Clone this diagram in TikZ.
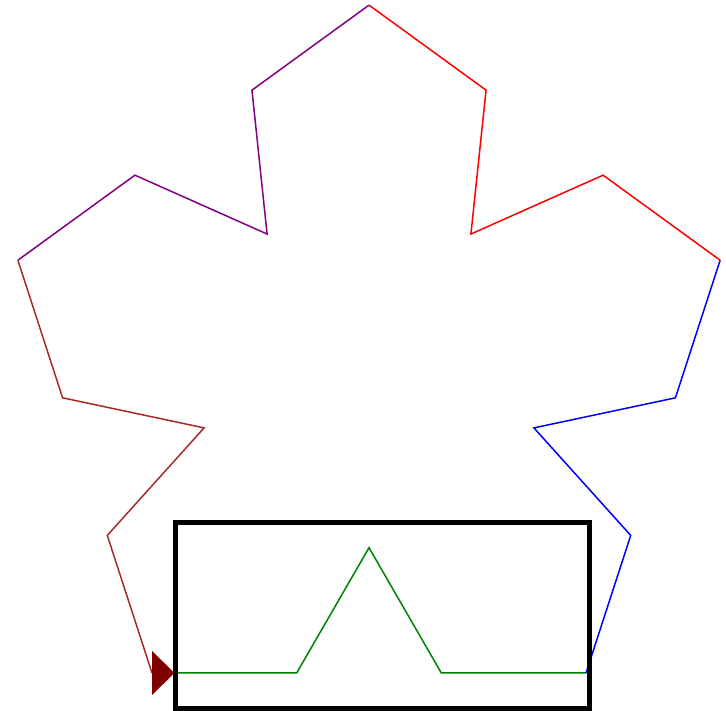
\documentclass[tikz,border=0pt]{standalone}
\usetikzlibrary{calc}
\definecolor{kgreen}{RGB}{0,128,0}
\definecolor{kblue}{RGB}{0,0,255}
\definecolor{kred}{RGB}{255,0,0}
\definecolor{kpurple}{RGB}{128,0,128}
\definecolor{kbrown}{RGB}{165,42,42}
\definecolor{kmaroon}{RGB}{128,0,0}
\tikzset{
  edge/.style={line width=1.5pt, line join=miter},
  frame/.style={line width=5pt, draw=black},
  turtle/.style={fill=kmaroon, draw=none}
}
\begin{document}
\begin{tikzpicture}[x=1pt,y=1pt]
\useasboundingbox (0,0) rectangle (726,711);
\def\a{144.67}
% start point
\coordinate (p0) at (152,38);
% green side (0 deg)
\path (p0) ++(0:\a) coordinate (g1) ++(60:\a) coordinate (g2) ++(-60:\a) coordinate (g3) ++(0:\a) coordinate (p1);
% blue side (72 deg)
\path (p1) ++(72:\a) coordinate (b1) ++(132:\a) coordinate (b2) ++(12:\a) coordinate (b3) ++(72:\a) coordinate (p2);
% red side (144 deg)
\path (p2) ++(144:\a) coordinate (r1) ++(204:\a) coordinate (r2) ++(84:\a) coordinate (r3) ++(144:\a) coordinate (p3);
% purple side (216 deg)
\path (p3) ++(216:\a) coordinate (u1) ++(276:\a) coordinate (u2) ++(156:\a) coordinate (u3) ++(216:\a) coordinate (p4);
% brown side (288 deg)
\path (p4) ++(288:\a) coordinate (n1) ++(348:\a) coordinate (n2) ++(228:\a) coordinate (n3) ++(288:\a) coordinate (p5);

\draw[edge, kgreen] (p0) -- (g1) -- (g2) -- (g3) -- (p1);
\draw[edge, kblue] (p1) -- (b1) -- (b2) -- (b3) -- (p2);
\draw[edge, kred] (p2) -- (r1) -- (r2) -- (r3) -- (p3);
\draw[edge, kpurple] (p3) -- (u1) -- (u2) -- (u3) -- (p4);
\draw[edge, kbrown] (p4) -- (n1) -- (n2) -- (n3) -- (p5);

% highlight frame
\coordinate (fbl) at (175.5,2.5);
\coordinate (ftr) at (589,188);
\draw[frame] (fbl) rectangle (ftr);

% turtle pointer
\coordinate (t0) at (152,60);
\coordinate (t1) at (174.5,38);
\coordinate (t2) at (152,16);
\fill[turtle] (t0) -- (t1) -- (t2) -- cycle;
\end{tikzpicture}
\end{document}
